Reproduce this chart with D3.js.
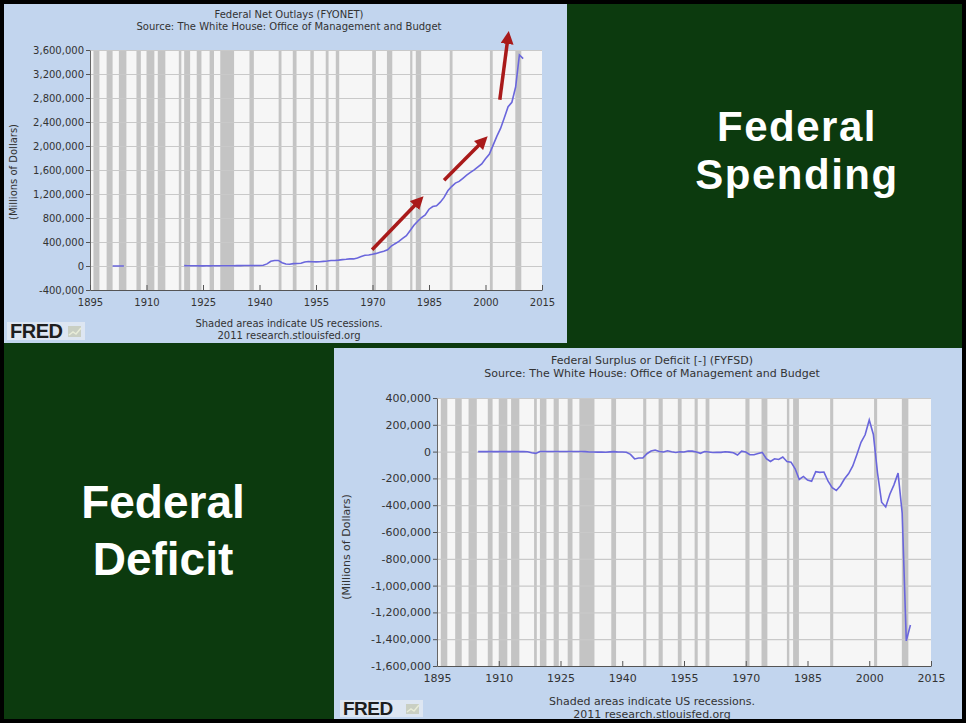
<!DOCTYPE html>
<html>
<head>
<meta charset="utf-8">
<script src="https://cdn.jsdelivr.net/npm/d3@7"></script>
<style>
  html, body { margin: 0; padding: 0; background: #000; }
  svg { display: block; }
</style>
</head>
<body>
<svg id="slide"></svg>
<script>
const W = 966, H = 723;

// NBER recessions, peak / trough month
const recessionStart = ["1895-12","1899-06","1902-09","1907-05","1910-01","1913-01","1918-08","1920-01","1923-05","1926-10","1929-08","1937-05","1945-02","1948-11","1953-07","1957-08","1960-04","1969-12","1973-11","1980-01","1981-07","1990-07","2001-03","2007-12"];
const recessionEnd   = ["1897-06","1900-12","1904-08","1908-06","1912-01","1914-12","1919-03","1921-07","1924-07","1927-11","1933-03","1938-06","1945-10","1949-10","1954-05","1958-04","1961-02","1970-11","1975-03","1980-07","1982-11","1991-03","2001-11","2009-06"];

const xTicks = [1895, 1910, 1925, 1940, 1955, 1970, 1985, 2000, 2015];

// Federal Net Outlays (FYONET), millions of dollars
const outlayEarlyStart = 1901;
const outlayEarly = [525, 485, 517, 584];
const outlayStart = 1920;
const outlays = [
  6358, 5062, 3289, 3140, 2908, 2924, 2930, 2857, 2961, 3127,
  3320, 3577, 4659, 4598, 6541, 6412, 8228, 7580, 6840, 9141,
  9468, 13653, 35137, 78555, 91304, 92712, 55232, 34496, 29764, 38835,
  42562, 45514, 67686, 76101, 70855, 68444, 70640, 76578, 82405, 92098,
  92191, 97723, 106821, 111316, 118528, 118228, 134532, 157464, 178134, 183640,
  195649, 210172, 230681, 245707, 269359, 332332, 371792, 409218, 458746, 504028,
  590941, 678241, 745743, 808364, 851805, 946344, 990382, 1004017, 1064416, 1143744,
  1252994, 1324226, 1381529, 1409386, 1461752, 1515742, 1560484, 1601116, 1652458, 1701842,
  1788950, 1862846, 2010894, 2159899, 2292841, 2471957, 2655050, 2728686, 2982544, 3517677,
  3456213
];
const outlayTicks = [-400000, 0, 400000, 800000, 1200000, 1600000, 2000000, 2400000, 2800000, 3200000, 3600000];

// red annotation arrows on the spending chart: [fromYear, fromValue, toYear, toValue]
const arrows = [
  [1969.9, 270000, 1982.6, 1100000],
  [1989.0, 1430000, 1999.6, 2100000],
  [2003.8, 2770000, 2006.0, 3830000]
];

// Federal Surplus or Deficit (FYFSD), millions of dollars
const deficitStart = 1905;
const deficits = [
  -23, 25, 87, -57, -89, -18, 11, 3, 0, 0,
  -63, 48, -853, -9032, -13363, 291, 509, 736, 713, 963,
  717, 865, 1155, 939, 734, 738, -462, -2735, -2602, -3586,
  -2803, -4304, -2193, -89, -2846, -2920, -4941, -20503, -54554, -47557,
  -47553, -15936, 4018, 11796, 580, -3119, 6102, -1519, -6493, -1154,
  -2993, 3947, 3412, -2769, -12849, 301, -3335, -7146, -4756, -5915,
  -1411, -3698, -8643, -25161, 3242, -2842, -23033, -23373, -14908, -6135,
  -53242, -73732, -53659, -59185, -40726, -73830, -78968, -127977, -207802, -185367,
  -212308, -221227, -149730, -155178, -152639, -221036, -269238, -290321, -255051, -203186,
  -163952, -107431, -21884, 69270, 125610, 236241, 128236, -157758, -377585, -412727,
  -318346, -248181, -160701, -458553, -1412686, -1293489
];
const deficitTicks = [-1600000, -1400000, -1200000, -1000000, -800000, -600000, -400000, -200000, 0, 200000, 400000];

const fmt = d3.formatLocale({ decimal: ".", thousands: ",", grouping: [3], currency: ["$", ""], minus: "-" }).format(",");

const toYear = (s, end) => {
  const [y, m] = s.split("-").map(Number);
  return y + (end ? m : m - 1) / 12;
};

const svg = d3.select("#slide").attr("width", W).attr("height", H);

svg.append("rect").attr("width", W).attr("height", H).attr("fill", "#000");
svg.append("rect").attr("x", 4).attr("y", 4).attr("width", W - 8).attr("height", H - 8).attr("fill", "#0c3a0e");

const defs = svg.append("defs");
defs.append("marker")
  .attr("id", "arrowhead")
  .attr("viewBox", "0 0 10 10")
  .attr("refX", 6).attr("refY", 5)
  .attr("markerWidth", 13).attr("markerHeight", 13)
  .attr("markerUnits", "userSpaceOnUse")
  .attr("orient", "auto")
  .append("path").attr("d", "M0,0 L10,5 L0,10 z").attr("fill", "#a91a1a");

function drawPanel(p) {
  const g = svg.append("g");
  g.append("rect")
    .attr("x", p.box[0]).attr("y", p.box[1]).attr("width", p.box[2]).attr("height", p.box[3])
    .attr("fill", "#c2d5ee");

  const x = d3.scaleLinear().domain([1895, 2015]).range([p.plot.left, p.plot.right]);
  const y = d3.scaleLinear().domain(d3.extent(p.ticks)).range([p.plot.bottom, p.plot.top]);
  const pw = p.plot.right - p.plot.left, ph = p.plot.bottom - p.plot.top;

  g.append("rect")
    .attr("x", p.plot.left).attr("y", p.plot.top).attr("width", pw).attr("height", ph)
    .attr("fill", "#f6f6f6");

  // recession shading
  g.append("g").selectAll("rect")
    .data(recessionStart.map((s, i) => [toYear(s, false), toYear(recessionEnd[i], true)]))
    .join("rect")
    .attr("x", d => x(d[0]))
    .attr("width", d => Math.max(2, x(d[1]) - x(d[0])))
    .attr("y", p.plot.top).attr("height", ph)
    .attr("fill", "#c4c4c4");

  // horizontal grid
  g.append("g")
    .attr("transform", `translate(${p.plot.left},0)`)
    .call(d3.axisLeft(y).tickValues(p.ticks).tickSize(-pw).tickFormat(""))
    .call(a => a.select(".domain").remove())
    .call(a => a.selectAll("line").attr("stroke", "#c9c9c9").attr("stroke-width", 1.2));

  // series
  const line = d3.line().x(d => x(d[0])).y(d => y(d[1]));
  p.series.forEach(s => {
    g.append("path")
      .datum(s.values.map((v, i) => [s.start + i, v]))
      .attr("d", line)
      .attr("fill", "none")
      .attr("stroke", "#6a66dc")
      .attr("stroke-width", 1.6);
  });

  // y axis
  g.append("g")
    .attr("transform", `translate(${p.plot.left},0)`)
    .call(d3.axisLeft(y).tickValues(p.ticks).tickFormat(fmt).tickSize(4).tickSizeOuter(0).tickPadding(2))
    .call(a => a.select(".domain").attr("stroke", "#666"))
    .call(a => a.selectAll("line").attr("stroke", "#555"))
    .call(a => a.selectAll("text")
      .attr("font-family", "DejaVu Sans").attr("font-size", p.font).attr("fill", "#333"));

  // x axis
  g.append("g")
    .attr("transform", `translate(0,${p.plot.bottom})`)
    .call(d3.axisBottom(x).tickValues(xTicks).tickFormat(d3.format("d")).tickSize(-5).tickSizeOuter(0).tickPadding(p.xPad))
    .call(a => a.select(".domain").attr("stroke", "#555").attr("stroke-width", 1.2))
    .call(a => a.selectAll("line").attr("stroke", "#555"))
    .call(a => a.selectAll("text")
      .attr("font-family", "DejaVu Sans").attr("font-size", p.font).attr("fill", "#333"));

  // titles and notes
  const txt = (t, tx, ty) => g.append("text")
    .attr("x", tx).attr("y", ty).attr("text-anchor", "middle")
    .attr("font-family", "DejaVu Sans").attr("font-size", p.font).attr("fill", "#333")
    .text(t);
  txt(p.title, p.cx, p.titleY);
  txt("Source: The White House: Office of Management and Budget", p.cx, p.titleY + p.font + 2);
  txt("Shaded areas indicate US recessions.", p.cx, p.footY);
  txt("2011 research.stlouisfed.org", p.cx, p.footY + p.font + 2);

  g.append("text")
    .attr("transform", `translate(${p.ylab[0]},${p.ylab[1]}) rotate(-90)`)
    .attr("text-anchor", "middle")
    .attr("font-family", "DejaVu Sans").attr("font-size", p.font).attr("fill", "#333")
    .text("(Millions of Dollars)");

  // FRED logo
  const [lx, ly, lw, lh] = p.logo;
  const logo = g.append("g");
  logo.append("rect").attr("x", lx).attr("y", ly).attr("width", lw).attr("height", lh).attr("fill", "#dde6f2");
  logo.append("text")
    .attr("x", lx + 3).attr("y", ly + lh - 2)
    .attr("font-family", "Liberation Sans").attr("font-weight", "bold")
    .attr("font-size", lh + 2).attr("letter-spacing", -0.5).attr("fill", "#1e1e1e")
    .text("FRED");
  logo.append("rect")
    .attr("x", lx + lw - 17).attr("y", ly + 4).attr("width", 13).attr("height", lh - 7)
    .attr("fill", "#c9cfc3");
  logo.append("path")
    .attr("d", `M${lx + lw - 16},${ly + lh - 5} l4,-3 l3,2 l5,-6`)
    .attr("fill", "none").attr("stroke", "#e8ecd8").attr("stroke-width", 1.5);

  return { g, x, y };
}

const spending = drawPanel({
  box: [4, 4, 563, 339],
  plot: { left: 90, right: 542, top: 50, bottom: 290 },
  ticks: outlayTicks,
  series: [{ start: outlayEarlyStart, values: outlayEarly }, { start: outlayStart, values: outlays }],
  font: 10, xPad: 9,
  title: "Federal Net Outlays (FYONET)",
  cx: 289, titleY: 18, footY: 327,
  ylab: [17, 172],
  logo: [7, 322, 78, 18]
});

// annotation arrows
spending.g.append("g").selectAll("line")
  .data(arrows)
  .join("line")
  .attr("x1", d => spending.x(d[0])).attr("y1", d => spending.y(d[1]))
  .attr("x2", d => spending.x(d[2])).attr("y2", d => spending.y(d[3]))
  .attr("stroke", "#a91a1a").attr("stroke-width", 3.5)
  .attr("marker-end", "url(#arrowhead)");

drawPanel({
  box: [334, 348, 628, 371],
  plot: { left: 437, right: 931, top: 398, bottom: 666 },
  ticks: deficitTicks,
  series: [{ start: deficitStart, values: deficits }],
  font: 11, xPad: 8,
  title: "Federal Surplus or Deficit [-] (FYFSD)",
  cx: 652, titleY: 364, footY: 705,
  ylab: [350, 547],
  logo: [340, 700, 83, 17]
});

// slide headings
const heading = (lines, cx, ys, size, spacing) => lines.forEach((t, i) => svg.append("text")
  .attr("x", cx).attr("y", ys[i]).attr("text-anchor", "middle")
  .attr("font-family", "Liberation Sans").attr("font-weight", "bold")
  .attr("font-size", size).attr("letter-spacing", spacing).attr("fill", "#ffffff")
  .text(t));
heading(["Federal", "Spending"], 797, [141, 189], 42, 1.5);
heading(["Federal", "Deficit"], 163, [518, 575], 46, 0);
</script>
</body>
</html>
